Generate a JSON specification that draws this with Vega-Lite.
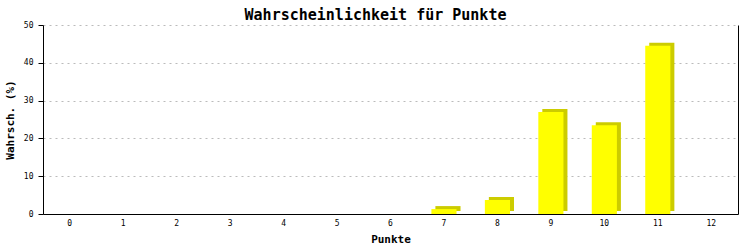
{
  "$schema": "https://vega.github.io/schema/vega-lite/v6.json",
  "width": 695,
  "height": 189,
  "autosize": {"type": "none"},
  "padding": {"left": 43, "top": 25, "right": 15, "bottom": 36},
  "background": "white",
  "config": {
    "view": {"stroke": null},
    "font": "DejaVu Sans Mono",
    "axis": {"labelFont": "DejaVu Sans Mono", "titleFont": "DejaVu Sans Mono"}
  },
  "title": {
    "text": "Wahrscheinlichkeit für Punkte",
    "font": "DejaVu Sans Mono",
    "fontSize": 15,
    "fontWeight": "bold",
    "color": "black",
    "anchor": "middle",
    "frame": "group",
    "dx": -15,
    "dy": 9,
    "offset": 7
  },
  "data": {
    "values": [
      {"punkte": "0", "p": 0},
      {"punkte": "1", "p": 0},
      {"punkte": "2", "p": 0},
      {"punkte": "3", "p": 0},
      {"punkte": "4", "p": 0},
      {"punkte": "5", "p": 0},
      {"punkte": "6", "p": 0},
      {"punkte": "7", "p": 1.3},
      {"punkte": "8", "p": 3.7},
      {"punkte": "9", "p": 27.0},
      {"punkte": "10", "p": 23.5},
      {"punkte": "11", "p": 44.5},
      {"punkte": "12", "p": 0}
    ]
  },
  "encoding": {
    "x": {
      "field": "punkte",
      "type": "ordinal",
      "sort": null,
      "scale": {"paddingInner": 0.53, "paddingOuter": 0.265},
      "axis": {
        "title": "Punkte",
        "titleFontSize": 11,
        "titleFontWeight": "bold",
        "titleColor": "black",
        "titlePadding": 6,
        "labelAngle": 0,
        "labelFontSize": 8,
        "labelColor": "black",
        "labelPadding": 5,
        "ticks": false,
        "domainColor": "black",
        "domainWidth": 1
      }
    }
  },
  "layer": [
    {
      "mark": {"type": "bar", "color": "#CCCC00", "xOffset": 4, "yOffset": -3},
      "encoding": {
        "y": {
          "field": "p",
          "type": "quantitative",
          "scale": {"domain": [0, 50], "nice": false},
          "axis": {
            "orient": "right",
            "labels": false,
            "ticks": false,
            "grid": false,
            "title": null,
            "domainColor": "black",
            "domainWidth": 1
          }
        }
      }
    },
    {
      "mark": {"type": "bar", "color": "#FFFF00"},
      "encoding": {
        "y": {
          "field": "p",
          "type": "quantitative",
          "scale": {"domain": [0, 50], "nice": false},
          "axis": {
            "title": "Wahrsch. (%)",
            "titleFontSize": 11,
            "titleFontWeight": "bold",
            "titleColor": "black",
            "titlePadding": 8,
            "values": [0, 10, 20, 30, 40, 50],
            "labelFontSize": 8,
            "labelColor": "black",
            "labelPadding": 5,
            "tickColor": "black",
            "tickSize": 5,
            "domainColor": "black",
            "domainWidth": 1,
            "grid": true,
            "gridColor": "#bbbbbb",
            "gridDash": [2, 4],
            "gridWidth": 1
          }
        }
      }
    }
  ],
  "resolve": {"axis": {"y": "independent"}}
}
